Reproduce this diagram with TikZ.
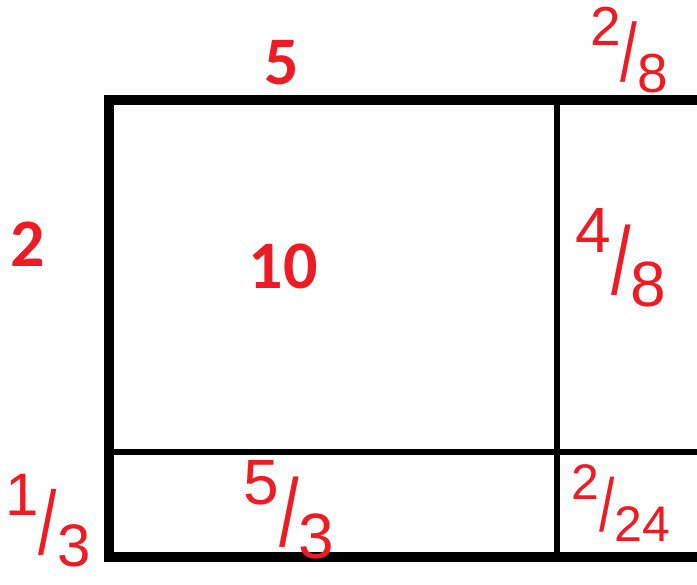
\documentclass[tikz,border=0pt]{standalone}
\usepackage{fontspec}
\setmainfont{Carlito}
\newfontfamily\handfont{Liberation Sans}
\usepackage{xcolor}
\definecolor{paintred}{RGB}{237,28,36}
\newcommand{\handfrac}[2]{\raisebox{0.45em}{#1}\raisebox{-0.2em}{\scalebox{1.1}[1.5]{/}}\raisebox{-0.4em}{#2}}
\tikzset{
  side/.style={text=paintred,font=\bfseries\fontsize{68}{68}\selectfont,inner sep=0pt},
  hand/.style={text=paintred,font=\handfont\fontsize{#1}{#1}\selectfont,inner sep=0pt},
  hand/.default=60,
  frame/.style={line width=10.5pt},
  divider/.style={line width=6pt}
}

\begin{document}
\begin{tikzpicture}[x=1pt,y=-1pt]
      \useasboundingbox (0,0) rectangle (697,585);
      \draw[frame] (710,100) -- (109,100) -- (109,557) -- (710,557);
      \draw[divider] (557,100) -- (557,557);
      \draw[divider] (109,452) -- (710,452);
      \node[side] (width) at (282,63) {5};
      \node[side] (height) at (28,244) {2};
      \node[side] (area) at (283,266) {10};
      \node[hand=55] (topright) at (629,50) {\handfrac{2}{8}};
      \node[hand=64] (midright) at (621,258) {\handfrac{4}{8}};
      \node[hand=60] (leftbottom) at (48,521) {\handfrac{1}{3}};
      \node[hand=64] (bottommid) at (289,510) {\handfrac{5}{3}};
      \node[hand=50] (corner) at (621,503) {\handfrac{2}{24}};
    \end{tikzpicture}
\end{document}
